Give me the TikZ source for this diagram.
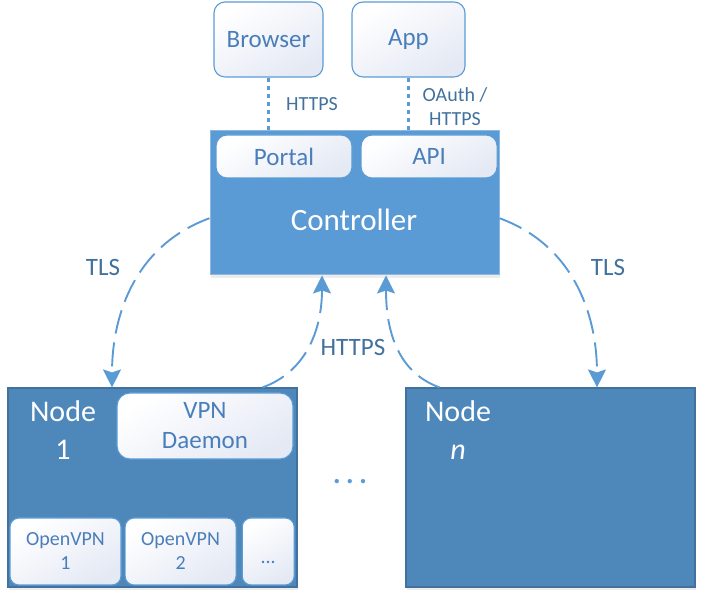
\documentclass[tikz,border=0pt]{standalone}
\usepackage{fontspec}
\setmainfont{Carlito}
\usepackage{xcolor}
\usepackage{tikz}
\usetikzlibrary{shapes,arrows,arrows.meta,positioning,shadows}

\definecolor{ctrlblue}{HTML}{5B9BD5}
\definecolor{nodeblue}{HTML}{4E88BB}
\definecolor{edgeblue}{HTML}{41719C}
\definecolor{textblue}{HTML}{4A7EBB}
\definecolor{paleblue}{HTML}{E4E9F4}

\begin{document}
\begin{tikzpicture}[x=1pt, y=1pt, >={Stealth[length=18pt,width=18pt,inset=3pt]}]
                    % Define styles
                    \tikzstyle{whitebox} = [rectangle, rounded corners=11pt, draw=ctrlblue, line width=1.1pt, top color=white, bottom color=paleblue, shading angle=30, text=textblue, inner sep=0pt, align=center]
                    \tikzstyle{client} = [whitebox, minimum width=109pt, minimum height=75pt, font=\fontsize{25}{30}\selectfont]
                    \tikzstyle{service} = [whitebox, minimum width=136pt, minimum height=43pt, font=\fontsize{25}{30}\selectfont]
                    \tikzstyle{tunnel} = [whitebox, rounded corners=9pt, minimum height=67pt, font=\fontsize{20}{24}\selectfont]
                    \tikzstyle{server} = [rectangle, draw=edgeblue, line width=1.1pt, fill=nodeblue, minimum width=289pt, minimum height=199pt, inner sep=0pt, drop shadow={opacity=0.15, shadow xshift=1pt, shadow yshift=-3pt}]
                    \tikzstyle{title} = [text=white, align=center, font=\fontsize{30}{38}\selectfont]
                    \tikzstyle{lbl} = [text=edgeblue, align=center]
                    \tikzstyle{link} = [draw=ctrlblue, line width=3pt, dash pattern=on 4pt off 4pt]
                    \tikzstyle{line} = [draw=ctrlblue, ->, line width=1.9pt, dash pattern=on 24pt off 9pt]

                    \useasboundingbox (0,0) rectangle (705,601);

                    % Nodes
                    \node [client] (browser) at (268.5,561.5) {Browser};
                    \node [client, minimum width=113pt] (app) at (408.5,561.5) {App};
                    \node [rectangle, draw=ctrlblue!70!white, line width=1pt, fill=ctrlblue, minimum width=289pt, minimum height=144pt, drop shadow={opacity=0.15, shadow xshift=1pt, shadow yshift=-3pt}] (controller) at (354.5,398) {};
                    \node [title, font=\fontsize{31}{38}\selectfont] (ctrltitle) at (354,381) {Controller};
                    \node [service] (portal) at (284,444.5) {Portal};
                    \node [service, right=8pt of portal] (api) {API};

                    \node [server] (node1) at (152.5,113.5) {};
                    \node [title] (node1title) at (63,171) {Node\\1};
                    \node [whitebox, minimum width=176pt, minimum height=66pt, rounded corners=13pt, font=\fontsize{25}{30}\selectfont] (daemon) at (205,175) {VPN\\Daemon};
                    \node [tunnel, minimum width=111pt] (ovpn1) at (65.5,49.5) {OpenVPN\\1};
                    \node [tunnel, minimum width=111pt, right=3pt of ovpn1] (ovpn2) {OpenVPN\\2};
                    \node [tunnel, minimum width=52pt, right=5pt of ovpn2] (ovpnmore) {\\...};

                    \node [server] (noden) at (550.5,113.5) {};
                    \node [title] (nodentitle) at (458,170.5) {Node\\\textit{n}};
                    \node [text=ctrlblue, font=\fontsize{36}{40}\selectfont] (dots) at (350,119) {.\hspace{4pt}.\hspace{4pt}.};

                    % Labels
                    \node [lbl, font=\fontsize{20}{24}\selectfont] (httpsweb) at (312,497) {HTTPS};
                    \node [lbl, font=\fontsize{20}{24}\selectfont] (httpsapi) at (455,494) {OAuth /\\HTTPS};
                    \node [lbl, font=\fontsize{25}{30}\selectfont] (tlsleft) at (103,334) {TLS};
                    \node [lbl, font=\fontsize{25}{30}\selectfont] (tlsright) at (608,334) {TLS};
                    \node [lbl, font=\fontsize{25}{30}\selectfont] (httpsnodes) at (353,254) {HTTPS};

                    % Arrows
                    \draw [link] (browser.south) -- (browser.south |- controller.north);
                    \draw [link] (app.south) -- (app.south |- controller.north);
                    \draw [line] (controller.186) to[out=200, in=90] ([xshift=-40.5pt]node1.north);
                    \draw [line] (controller.354) to[out=-20, in=90] ([xshift=46.5pt]noden.north);
                    \draw [line] ([xshift=110pt]node1.north) to[out=20, in=-90] ([xshift=-32.5pt]controller.south);
                    \draw [line] ([xshift=-111pt]noden.north) to[out=160, in=-90] ([xshift=31.5pt]controller.south);
                \end{tikzpicture}
\end{document}
